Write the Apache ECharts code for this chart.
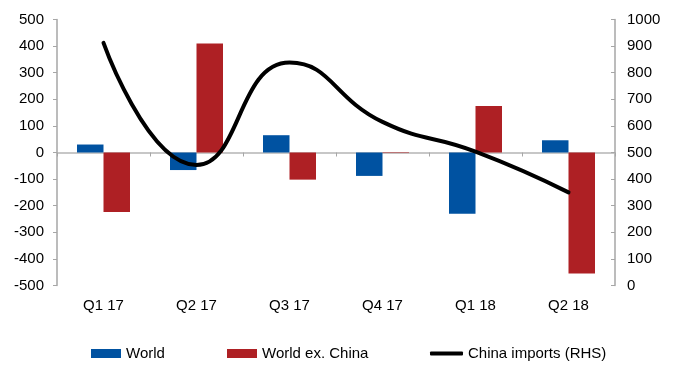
<!DOCTYPE html>
<html>
<head>
<meta charset="utf-8">
<script src="https://cdn.jsdelivr.net/npm/echarts@6/dist/echarts.min.js"></script>
<style>
  html, body { margin: 0; padding: 0; background: #fff; }
  #chart { width: 677px; height: 365px; }
</style>
</head>
<body>
<div id="chart"></div>
<script>
// Quarterly flows (LHS) and China imports (RHS)
const categories = ['Q1 17', 'Q2 17', 'Q3 17', 'Q4 17', 'Q1 18', 'Q2 18'];
const world = [30, -66, 65, -88, -230, 46];
const worldExChina = [-224, 410, -102, -2, 175, -455];
const chinaImports = [912, 453, 838, 615, 503, 350];

const FONT = '"Liberation Sans", Arial, sans-serif';
const AXIS_GREY = '#a6a6a6';
const BLUE = '#0052a1';
const RED = '#ae2024';

const chart = echarts.init(document.getElementById('chart'), null, { renderer: 'canvas' });

const legendText = { color: '#000', fontSize: 15, fontFamily: FONT };
const plain = v => String(v);

chart.setOption({
  animation: false,
  backgroundColor: '#fff',
  textStyle: { fontFamily: FONT },
  grid: { left: 57, right: 62, top: 19.5, bottom: 79.5, containLabel: false },
  legend: [
    { data: ['World'], left: 91, top: 346, padding: 0, itemWidth: 30, itemHeight: 9, itemGap: 0,
      icon: 'rect', textStyle: legendText },
    { data: ['World ex. China'], left: 227, top: 346, padding: 0, itemWidth: 30, itemHeight: 9, itemGap: 0,
      icon: 'rect', textStyle: legendText },
    { data: [{ name: 'China imports (RHS)', icon: 'roundRect' }], left: 430, top: 346, padding: 0,
      itemWidth: 33, itemHeight: 4, itemGap: 0,
      itemStyle: { color: '#000' }, textStyle: legendText }
  ],
  xAxis: [
    {
      // zero line with category separators
      type: 'category',
      data: categories,
      position: 'bottom',
      boundaryGap: true,
      axisLine: { show: true, onZero: true, onZeroAxisIndex: 0, lineStyle: { color: '#b5b5b5', width: 1.5 } },
      axisTick: { show: true, length: 4, lineStyle: { color: AXIS_GREY } },
      axisLabel: { show: false },
      splitLine: { show: false }
    },
    {
      // category labels along the bottom edge
      type: 'category',
      data: categories,
      position: 'bottom',
      boundaryGap: true,
      axisLine: { show: false, onZero: false },
      axisTick: { show: false },
      axisLabel: { show: true, margin: 13, color: '#000', fontSize: 15, fontFamily: FONT },
      splitLine: { show: false }
    }
  ],
  yAxis: [
    {
      type: 'value',
      position: 'left',
      min: -500, max: 500, interval: 100,
      axisLine: { show: true, lineStyle: { color: AXIS_GREY, width: 1.5 } },
      axisTick: { show: true, length: 4, lineStyle: { color: AXIS_GREY } },
      axisLabel: { margin: 13, color: '#000', fontSize: 15, fontFamily: FONT, formatter: plain },
      splitLine: { show: false }
    },
    {
      type: 'value',
      position: 'right',
      min: 0, max: 1000, interval: 100,
      axisLine: { show: true, lineStyle: { color: AXIS_GREY, width: 1.5 } },
      axisTick: { show: true, inside: true, length: 4, lineStyle: { color: AXIS_GREY } },
      axisLabel: { margin: 12, color: '#000', fontSize: 15, fontFamily: FONT, formatter: plain },
      splitLine: { show: false }
    }
  ],
  series: [
    {
      name: 'World',
      type: 'bar',
      xAxisIndex: 0,
      yAxisIndex: 0,
      data: world,
      barWidth: 26.5,
      barGap: '0%',
      itemStyle: { color: BLUE }
    },
    {
      name: 'World ex. China',
      type: 'bar',
      xAxisIndex: 0,
      yAxisIndex: 0,
      data: worldExChina,
      barWidth: 26.5,
      barGap: '0%',
      itemStyle: { color: RED }
    },
    {
      name: 'China imports (RHS)',
      type: 'line',
      xAxisIndex: 0,
      yAxisIndex: 1,
      data: chinaImports,
      smooth: 0.5,
      symbol: 'none',
      z: 5,
      lineStyle: { color: '#000', width: 4, cap: 'round' },
      itemStyle: { color: '#000' }
    }
  ]
});
</script>
</body>
</html>
